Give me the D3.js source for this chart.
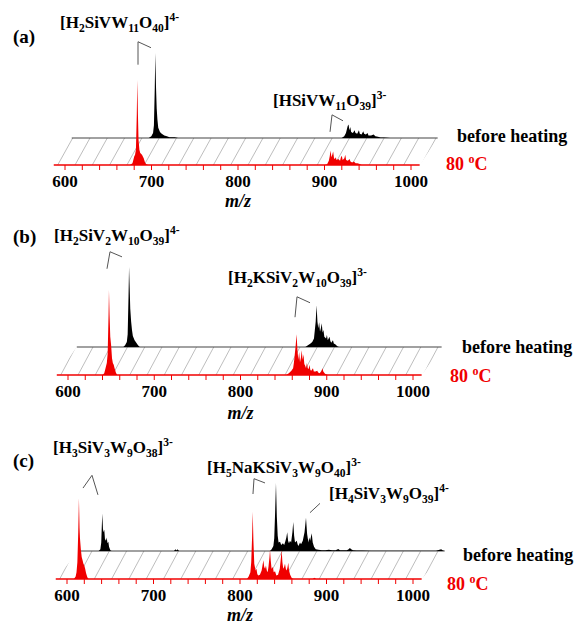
<!DOCTYPE html>
<html>
<head>
<meta charset="utf-8">
<title>ESI-MS spectra</title>
<script src="https://cdnjs.cloudflare.com/ajax/libs/d3/7.8.5/d3.min.js"></script>
<style>
  body { margin: 0; background: #fff; }
  text { font-family: "Liberation Serif", "Times New Roman", serif; font-weight: bold; }
</style>
</head>
<body>
<script>
// axis ticks
var tickValues = [600, 700, 800, 900, 1000];
var minorTicks = d3.range(600, 1001, 20);
var panelNames = ["(a)", "(b)", "(c)"];
var beforeName = "before heating";
var heatedName = ["80 ", "o", "C"];

// spectra, [m/z, relative intensity]
var heatedA = [[675,0],[678,2],[679,6],[680,10],[681,12],[682,18],[683,60],[683.6,100],[684.3,60],[685,30],[686,18],[687,14],[689,12],[691,8],[692.5,3],[694,1],[696,0],
  [900,0],[903,1],[905,5],[906,10],[907,17],[908,9],[909,12],[910,16],[911,8],[912,7],[913,9],[914,6],[916,7],[918,5],[919,9],[920,11],[921,6],[923,8],[924,12],[925,6],[927,5],[929,7],[930,4],[932,3],[934,4],[936,2],[938,2],[940,1.5],[943,0]];
var beforeA = [[676,0],[679,2],[681,6],[682,15],[683,60],[683.6,100],[684.4,60],[685.2,35],[686,22],[687,12],[689,7],[691,5],[694,3],[697,2],[700,1],[706,0.8],[710,0],
  [899,0],[902,2],[904,6],[905,10],[906,14],[907,16],[908,9],[909,13],[910,7],[912,6],[914,9],[915,6],[917,5],[919,9],[920,5],[922,4],[924,8],[925,5],[927,4],[929,6],[930,3],[933,3],[936,4],[938,2],[941,1.5],[944,0.5],[948,0.5],[952,0.4],[955,0]];

var heatedB = [[640,0],[642,2],[643,6],[644,10],[645,14],[646,25],[647,70],[647.5,100],[648.2,70],[649,45],[650,35],[651,20],[652,14],[653,12],[654,8],[655.5,3],[657,0],
  [853,0],[856,2],[859,5],[861,8],[862,15],[863,25],[864,35],[865,48],[866,30],[867,18],[868,27],[869,15],[870,20],[871,29],[872,18],[873,24],[874,13],[875,11],[876,8],[877,14],[878,8],[879,7],[880,12],[881,6],[882,5],[884,8],[885,4],[887,4],[889,5],[890,3],[892,2],[894,5],[895,8],[896,4],[898,1.5],[901,0]];
var beforeB = [[641,0],[643,2],[645,6],[646,15],[647,60],[647.6,94],[648.3,70],[649,45],[650,30],[651,20],[652,13],[654,8],[656,5],[658,2],[660,0],
  [852,0],[855,2],[858,4],[860,6],[862,10],[863,20],[864,30],[865,49],[866,30],[867,22],[868,29],[869,18],[870,22],[871,28],[872,17],[873,20],[874,12],[876,10],[877,14],[878,8],[880,12],[881,7],[882,5],[884,8],[885,4],[887,3],[889,1],[891,0]];

var heatedC = [[608,0],[610,3],[611,8],[612,20],[613,55],[613.8,95],[614.5,60],[615,48],[616,35],[617,26],[618,22],[619,18],[620,16],[621,12],[622,7],[623.5,2],[625,0],
  [808,0],[810,3],[812,8],[813,20],[814,50],[814.7,79],[815.5,45],[816.5,18],[818,10],[819,12],[820,6],[821,4],[823,5],[825,10],[826,16],[827,22],[828,14],[829,12],[830,16],[831,10],[832,8],[833,15],[834,25],[834.7,34],[835.5,22],[836.5,12],[838,14],[839,8],[840.5,9],[842,4],[844,5],[846,12],[847,22],[848.2,34],[849,20],[850,12],[851,14],[852,18],[853,12],[854,10],[855,14],[855.8,19],[856.7,10],[858,5],[860,1],[862,0],
  [884,0],[886,1.5],[888,0]];
var beforeC = [[610,0],[612,2],[613,10],[613.5,25],[614.2,44],[615,26],[615.7,22],[616.5,25],[617.3,14],[618.5,12],[619.3,16],[620.2,9],[621.2,11],[622,5],[623.5,1],[625,0],
  [697,0],[699,2],[700,0.5],[701,2],[703,0],
  [808,0],[810,2],[812,6],[813,15],[814,45],[815,80],[816,40],[817,18],[818,10],[819.7,11],[821,7],[823,9],[824.5,7],[826,12],[827,16],[828,22],[829,12],[830,9],[831.2,12],[832.5,10],[834,22],[835,34],[836,18],[837,10],[839,12],[840,8],[841,6],[842.8,10],[844,8],[846,12],[848,22],[849.7,39],[851,20],[852.5,10],[853.5,16],[854.5,12],[856.3,21],[857.5,10],[859,5],[861,2],[864,1.5],[868,1],[872,1],[876,1.5],[880,1],[884,1],[887,2.5],[889,0.8],[893,1],[897,1],[899,2],[900.5,3.5],[902,2],[904,0.8],[908,0.5],[915,0.5],[925,0.3],[940,0.3],[960,0.3],[980,0.3],[1000,0.3],[1006,2],[1008,0.5],[1010,0]];

// ion labels: [text, "sub" | "sup" | ""]
var ionsA = [
  [["[H"],["2","sub"],["SiVW"],["11","sub"],["O"],["40","sub"],["]"],["4-","sup"]],
  [["[HSiVW"],["11","sub"],["O"],["39","sub"],["]"],["3-","sup"]]
];
var ionsB = [
  [["[H"],["2","sub"],["SiV"],["2","sub"],["W"],["10","sub"],["O"],["39","sub"],["]"],["4-","sup"]],
  [["[H"],["2","sub"],["KSiV"],["2","sub"],["W"],["10","sub"],["O"],["39","sub"],["]"],["3-","sup"]]
];
var ionsC = [
  [["[H"],["3","sub"],["SiV"],["3","sub"],["W"],["9","sub"],["O"],["38","sub"],["]"],["3-","sup"]],
  [["[H"],["5","sub"],["NaKSiV"],["3","sub"],["W"],["9","sub"],["O"],["40","sub"],["]"],["3-","sup"]],
  [["[H"],["4","sub"],["SiV"],["3","sub"],["W"],["9","sub"],["O"],["39","sub"],["]"],["4-","sup"]]
];

// leader lines, in [m/z, intensity] of the front plane
var leadersA = [[[684.4,118],[684.4,145],[699.4,138]], [[906.4,39],[908.7,59],[921.4,52]]];
var leadersB = [[[645.2,125],[648.7,145],[662.6,139]], [[863.2,68],[865.5,92],[880.6,85]]];
var leadersC = [[[618.5,107],[628.9,122],[635.8,99]], [[815,100],[816.2,118],[828.9,113]], [[880.9,78],[892.5,89]]];

var panels = [
  { name: panelNames[0], heated: heatedA, before: beforeA, ions: ionsA, leaders: leadersA,
    base: 165, x0: 65, x1: 411, dx: 18, dy: 27,
    ionPos: [[60, 28], [273, 106]], namePos: [13, 43],
    beforePos: [457, 142], heatedPos: [446, 170], tickY: 187, unitY: 207 },
  { name: panelNames[1], heated: heatedB, before: beforeB, ions: ionsB, leaders: leadersB,
    base: 375, x0: 68, x1: 413, dx: 20, dy: 28,
    ionPos: [[54, 241], [228, 283]], namePos: [13, 243],
    beforePos: [462, 353], heatedPos: [450, 382], tickY: 397, unitY: 419 },
  { name: panelNames[2], heated: heatedC, before: beforeC, ions: ionsC, leaders: leadersC,
    base: 579, x0: 67, x1: 413, dx: 23, dy: 28,
    ionPos: [[53, 453], [207, 473], [329, 499]], namePos: [13, 467],
    beforePos: [463, 561], heatedPos: [447, 590], tickY: 601, unitY: 621 }
];

var W = 578, H = 625, RED = "#f00000";

var svg = d3.select("body").append("svg")
  .attr("width", W).attr("height", H);

function richText(g, parts, x, y, size) {
  var t = g.append("text").attr("x", x).attr("y", y).style("font-size", size + "px");
  var shift = 0;
  parts.forEach(function(p) {
    var target = p[1] === "sub" ? 4 : p[1] === "sup" ? -7 : 0;
    t.append("tspan")
      .attr("dy", target - shift)
      .style("font-size", (p[1] ? size * 0.68 : size) + "px")
      .text(p[0]);
    shift = target;
  });
  return t;
}

var y = d3.scaleLinear().domain([0, 100]).range([0, -85]);

panels.forEach(function(p, i) {
  var x = d3.scaleLinear().domain([600, 1000]).range([p.x0, p.x1]);
  var area = d3.area()
    .x(function(d) { return x(d[0]); })
    .y0(0)
    .y1(function(d) { return y(d[1]); });

  var g = svg.append("g").attr("transform", "translate(0," + p.base + ")");
  var lo = x(587), hi = x(1010);

  // hatched floor between the two traces
  var clipId = "floor" + i;
  g.append("clipPath").attr("id", clipId)
    .append("polygon")
    .attr("points", [[lo, 0], [hi, 0], [hi + p.dx, -p.dy], [lo + p.dx, -p.dy]].join(" "));
  g.append("g").attr("clip-path", "url(#" + clipId + ")")
    .selectAll("line")
    .data(d3.range(580, 1040, 20))
    .enter().append("line")
    .attr("x1", function(d) { return x(d) + 10; })
    .attr("y1", 0)
    .attr("x2", function(d) { return x(d) + 25; })
    .attr("y2", -p.dy)
    .attr("stroke", "#a0a0a0")
    .attr("stroke-width", 0.7);

  // back trace: before heating
  var back = g.append("g").attr("transform", "translate(" + p.dx + "," + (-p.dy) + ")");
  back.append("line")
    .attr("x1", lo).attr("x2", hi)
    .attr("stroke", "#444").attr("stroke-width", 1.1);
  back.append("path").datum(p.before)
    .attr("d", area)
    .attr("fill", "#000");

  // front trace: 80 oC
  g.append("line")
    .attr("x1", lo).attr("x2", hi)
    .attr("stroke", RED).attr("stroke-width", 1.4);
  g.selectAll(".tk").data(minorTicks).enter().append("line")
    .attr("class", "tk")
    .attr("x1", x).attr("x2", x)
    .attr("y1", 0).attr("y2", 5)
    .attr("stroke", RED).attr("stroke-width", 1);
  g.append("path").datum(p.heated)
    .attr("d", area)
    .attr("fill", RED);

  // leader lines
  g.selectAll(".leader").data(p.leaders).enter().append("path")
    .attr("class", "leader")
    .attr("d", d3.line().x(function(d) { return x(d[0]); }).y(function(d) { return y(d[1]); }))
    .attr("fill", "none")
    .attr("stroke", "#555")
    .attr("stroke-width", 1);

  // tick labels
  svg.selectAll(".tl" + i).data(tickValues).enter().append("text")
    .attr("class", "tl" + i)
    .attr("x", x)
    .attr("y", p.tickY)
    .attr("text-anchor", "middle")
    .style("font-size", "17px")
    .text(function(d) { return d; });

  svg.append("text")
    .attr("x", x(800)).attr("y", p.unitY)
    .attr("text-anchor", "middle")
    .style("font-size", "18px").style("font-style", "italic")
    .text("m/z");

  // panel name
  svg.append("text")
    .attr("x", p.namePos[0]).attr("y", p.namePos[1])
    .style("font-size", "19px")
    .text(p.name);

  // ion labels
  p.ions.forEach(function(parts, j) {
    richText(svg, parts, p.ionPos[j][0], p.ionPos[j][1], 17);
  });

  // series labels
  svg.append("text")
    .attr("x", p.beforePos[0]).attr("y", p.beforePos[1])
    .style("font-size", "18px")
    .text(beforeName);
  var ht = svg.append("text")
    .attr("x", p.heatedPos[0]).attr("y", p.heatedPos[1])
    .attr("fill", RED)
    .style("font-size", "18px");
  ht.append("tspan").text(heatedName[0]);
  ht.append("tspan").attr("dy", -7).style("font-size", "12px").text(heatedName[1]);
  ht.append("tspan").attr("dy", 7).text(heatedName[2]);
});
</script>
</body>
</html>
